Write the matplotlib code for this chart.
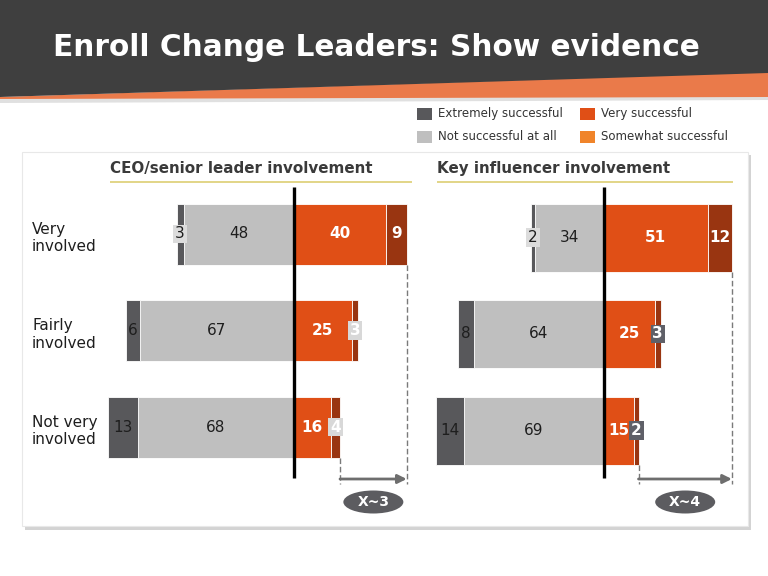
import matplotlib
matplotlib.use("Agg")
import matplotlib.pyplot as plt
import matplotlib.transforms as mtrans
from matplotlib.patches import Polygon, Rectangle, Ellipse

W, H = 768, 576

# ---------------- data ----------------
categories = ["Very\ninvolved", "Fairly\ninvolved", "Not very\ninvolved"]
panel_titles = ["CEO/senior leader involvement", "Key influencer involvement"]

ceo_left_outer = [3, 6, 13]
ceo_left_inner = [48, 67, 68]
ceo_right_inner = [40, 25, 16]
ceo_right_outer = [9, 3, 4]

key_left_outer = [2, 8, 14]
key_left_inner = [34, 64, 69]
key_right_inner = [51, 25, 15]
key_right_outer = [12, 3, 2]

multipliers = ["X~3", "X~4"]

legend_labels = ["Extremely successful", "Not successful at all",
                 "Very successful", "Somewhat successful"]

title = "Enroll Change Leaders: Show evidence"

# ---------------- styles ----------------
C_DARK = "#58585b"
C_LIGHT = "#bfbfbf"
C_RED = "#e04f16"
C_BROWN = "#993511"
C_ORANGE = "#f0842a"
C_TXT = "#1e1e1e"
legend_colors = [C_DARK, C_LIGHT, C_RED, C_ORANGE]

fig = plt.figure(figsize=(W / 100, H / 100), dpi=100)
fig.patch.set_facecolor("white")

# image-pixel (y down) -> display transform
PX = mtrans.Affine2D().scale(1, -1).translate(0, H)


def add_patch(p, z=-5):
    p.set_transform(PX)
    p.set_zorder(z)
    fig.add_artist(p)


# ---------------- header ----------------
add_patch(Polygon([(0, 98), (768, 96), (768, 100), (0, 103)], closed=True,
                  facecolor="#e0e0e0", edgecolor="none"))
add_patch(Polygon([(0, 97), (768, 72), (768, 97), (0, 99)], closed=True,
                  facecolor="#ea7a4a", edgecolor="none"))
add_patch(Polygon([(0, 0), (768, 0), (768, 73), (0, 97)], closed=True,
                  facecolor="#3f3f3f", edgecolor="none"))
fig.text(53 / W, 1 - 48 / H, title, color="white", fontsize=21.3,
         fontweight="bold", ha="left", va="center", family="DejaVu Sans")

# ---------------- legend ----------------
leg_pos = [(417, 114), (417, 137), (580, 114), (580, 137)]
for (lx, ly), lab, col in zip(leg_pos, legend_labels, legend_colors):
    add_patch(Rectangle((lx, ly - 6), 15, 12, facecolor=col, edgecolor="none"))
    fig.text((lx + 21) / W, 1 - ly / H, lab, fontsize=8.5, color="#333333",
             ha="left", va="center")

# ---------------- frame ----------------
add_patch(Rectangle((25, 155), 726, 375, facecolor="#d3d3d3", edgecolor="none"),
          z=-10)
add_patch(Rectangle((22, 152), 726, 374, facecolor="white", edgecolor="#e8e8e8",
                    lw=0.8), z=-9)

# ---------------- panels ----------------
ROW = 96.5  # pixel spacing of rows
AX_T, AX_B = 160, 520


def make_axes(L, R):
    ax = fig.add_axes([L / W, 1 - AX_B / H, (R - L) / W, (AX_B - AX_T) / H])
    ax.set_zorder(1)
    return ax


def small_label(ax, x, y, s, box, txt):
    ax.text(x, y, s, ha="center", va="center", fontsize=11, color=txt,
            fontweight="bold" if txt == "white" else "normal", zorder=6,
            bbox=dict(boxstyle="square,pad=0.12", facecolor=box, edgecolor="none"))


def panel(L, R, center, scale, top_center, bar_px, lo, li, ri, ro,
          small_styles, title_txt, underline, mult):
    ax = make_axes(L, R)
    ax.set_xlim((L - center) / scale, (R - center) / scale)
    ax.set_ylim((AX_B - top_center) / ROW, (AX_T - top_center) / ROW)
    ax.axis("off")
    h = bar_px / ROW
    y = list(range(len(categories)))
    ax.barh(y, [-v for v in li], left=0, height=h, color=C_LIGHT,
            edgecolor="white", lw=0.6)
    ax.barh(y, [-v for v in lo], left=[-v for v in li], height=h, color=C_DARK,
            edgecolor="white", lw=0.6)
    ax.barh(y, ri, left=0, height=h, color=C_RED, edgecolor="white", lw=0.6)
    ax.barh(y, ro, left=ri, height=h, color=C_BROWN, edgecolor="white", lw=0.6)

    for i in y:
        ax.text(-li[i] / 2, i, str(li[i]), ha="center", va="center",
                fontsize=11, color=C_TXT)
        ax.text(ri[i] / 2, i, str(ri[i]), ha="center", va="center",
                fontsize=11, color="white", fontweight="bold")
        xo = -li[i] - lo[i] / 2
        if ("lo", i) in small_styles:
            small_label(ax, xo, i, str(lo[i]), *small_styles[("lo", i)])
        else:
            ax.text(xo, i, str(lo[i]), ha="center", va="center", fontsize=11,
                    color=C_TXT)
        xr = ri[i] + ro[i] / 2
        if ("ro", i) in small_styles:
            small_label(ax, xr, i, str(ro[i]), *small_styles[("ro", i)])
        else:
            ax.text(xr, i, str(ro[i]), ha="center", va="center", fontsize=11,
                    color="white", fontweight="bold")

    # centre line
    ax.plot([0, 0], [(187 - top_center) / ROW, (478 - top_center) / ROW],
            color="black", lw=2.4, solid_capstyle="butt", zorder=5)

    # comparison arrow
    hi_tot = ri[0] + ro[0]
    lo_tot = ri[-1] + ro[-1]
    ya = (479 - top_center) / ROW
    yend = (484 - top_center) / ROW
    ax.plot([hi_tot, hi_tot], [h / 2, yend], color="#7a7a7a", lw=1.0,
            ls=(0, (4, 2)))
    ax.plot([lo_tot, lo_tot], [len(y) - 1 + h / 2, yend], color="#7a7a7a",
            lw=1.0, ls=(0, (4, 2)))
    ax.annotate("", xy=(hi_tot, ya), xytext=(lo_tot, ya),
                arrowprops=dict(arrowstyle="-|>", color="#6e6e6e", lw=2.0,
                                mutation_scale=13, shrinkA=0, shrinkB=0),
                annotation_clip=False)
    xmid = (hi_tot + lo_tot) / 2
    ye = (502 - top_center) / ROW
    disp = ax.transData.transform((xmid, ye))
    cx, cy = disp[0], H - disp[1]
    add_patch(Ellipse((cx, cy), 60, 23, facecolor="#5c5c60", edgecolor="none"),
              z=3)
    fig.text(cx / W, 1 - cy / H, mult, color="white", fontsize=10,
             fontweight="bold", ha="center", va="center", zorder=4)

    # panel title + underline
    fig.text(underline[0] / W, 1 - 168 / H, title_txt, fontsize=10.9,
             fontweight="bold", color="#3a3a3a", ha="left", va="center")
    add_patch(Rectangle((underline[0], 180.5), underline[1] - underline[0], 2.0,
                        facecolor="#e2d68a", edgecolor="none"), z=2)
    return ax


ceo_small = {("lo", 0): ("#dcdcdc", C_TXT),
             ("ro", 1): ("#d8d8d8", "white"),
             ("ro", 2): ("#d8d8d8", "white")}
key_small = {("lo", 0): ("#dcdcdc", C_TXT),
             ("ro", 1): ("#5f6068", "white"),
             ("ro", 2): ("#5f6068", "white")}

ax1 = panel(100, 415, 294, 2.3, 234, 61, ceo_left_outer, ceo_left_inner,
            ceo_right_inner, ceo_right_outer, ceo_small, panel_titles[0],
            (110, 412), multipliers[0])
ax2 = panel(430, 745, 604, 2.03, 237.5, 68, key_left_outer, key_left_inner,
            key_right_inner, key_right_outer, key_small, panel_titles[1],
            (437, 733), multipliers[1])

# row labels
blend = mtrans.blended_transform_factory(fig.transFigure, ax1.transData)
for i, cat in enumerate(categories):
    ax1.text(32 / W, i + 0.04, cat, transform=blend, ha="left", va="center",
             fontsize=11, color=C_TXT, linespacing=1.2, clip_on=False)

fig.savefig("out.png", dpi=100)
